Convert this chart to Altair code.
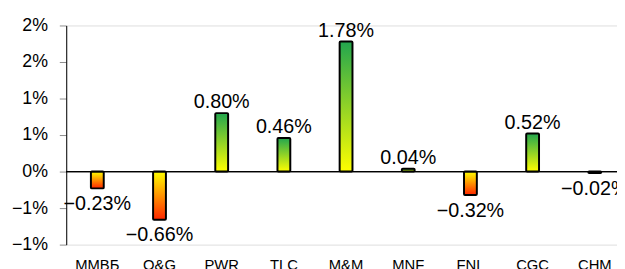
import altair as alt
import pandas as pd

categories = ["MMBБ", "O&G", "PWR", "TLC", "M&M", "MNF", "FNL", "CGC", "CHM"]
values = [-0.23, -0.66, 0.80, 0.46, 1.78, 0.04, -0.32, 0.52, -0.02]
y_ticks = [-1.0, -0.5, 0.0, 0.5, 1.0, 1.5, 2.0]

df = pd.DataFrame({"cat": categories, "v": values})

FONT = "Liberation Sans"

x_enc = alt.X(
    "cat:N",
    sort=categories,
    scale=alt.Scale(range=[0, 567], paddingInner=0, paddingOuter=0),
    axis=alt.Axis(title=None, labelAngle=0, ticks=False, domain=False,
                  labelFont=FONT, labelFontSize=15, labelColor="#000000",
                  labelPadding=13),
)
y_scale = alt.Scale(domain=[-1, 2], nice=False, zero=False)
y_axis = alt.Axis(title=None, values=y_ticks, grid=False, labelOverlap=False,
                  tickCount=7,
                  labelExpr="format(datum.value, '.0f') + '%'",
                  labelFont=FONT, labelFontSize=18, labelColor="#000000",
                  labelPadding=12, tickSize=7, tickColor="#8c8c8c",
                  domainColor="#000000", domainWidth=1)
y_enc = alt.Y("v:Q", scale=y_scale, axis=y_axis)

pos_grad = alt.Gradient(
    gradient="linear", x1=0, y1=1, x2=0, y2=0,
    stops=[alt.GradientStop(color="#FFFF00", offset=0),
           alt.GradientStop(color="#22A64E", offset=1)],
)
neg_grad = alt.Gradient(
    gradient="linear", x1=0, y1=0, x2=0, y2=1,
    stops=[alt.GradientStop(color="#FFFF00", offset=0),
           alt.GradientStop(color="#FF2600", offset=1)],
)

base = alt.Chart(df)

pos_bars = base.transform_filter("datum.v >= 0").mark_bar(
    size=13, stroke="#000000", strokeWidth=2, fill=pos_grad, cornerRadius=1
).encode(x=x_enc, y=y_enc, y2=alt.datum(0))

neg_bars = base.transform_filter("datum.v < 0").mark_bar(
    size=13, stroke="#000000", strokeWidth=2, fill=neg_grad, cornerRadius=1
).encode(x=x_enc, y=y_enc, y2=alt.datum(0))

zero_rule = base.transform_calculate(z="0").mark_rule(
    color="#000000", strokeWidth=1
).encode(y=alt.Y("z:Q", scale=y_scale, axis=y_axis))

pos_text = base.transform_filter("datum.v >= 0").transform_calculate(
    lbl="format(datum.v, '.2f') + '%'"
).mark_text(font=FONT, fontSize=20, color="#000000", baseline="alphabetic",
            dy=-5).encode(x=x_enc, y=y_enc, text="lbl:N")

neg_text = base.transform_filter("datum.v < 0").transform_calculate(
    lbl="format(datum.v, '.2f') + '%'"
).mark_text(font=FONT, fontSize=20, color="#000000", baseline="top",
            dy=6).encode(x=x_enc, y=y_enc, text="lbl:N")

chart = alt.layer(pos_bars, neg_bars, zero_rule, pos_text, neg_text).properties(
    width=558, height=222,
    autosize=alt.AutoSizeParams(type="none"),
    padding={"left": 59, "top": 16, "right": 0, "bottom": 23},
).configure_view(stroke=None).configure(background="#ffffff")

chart.save("out.html", embed_options={"renderer": "svg", "actions": False})
